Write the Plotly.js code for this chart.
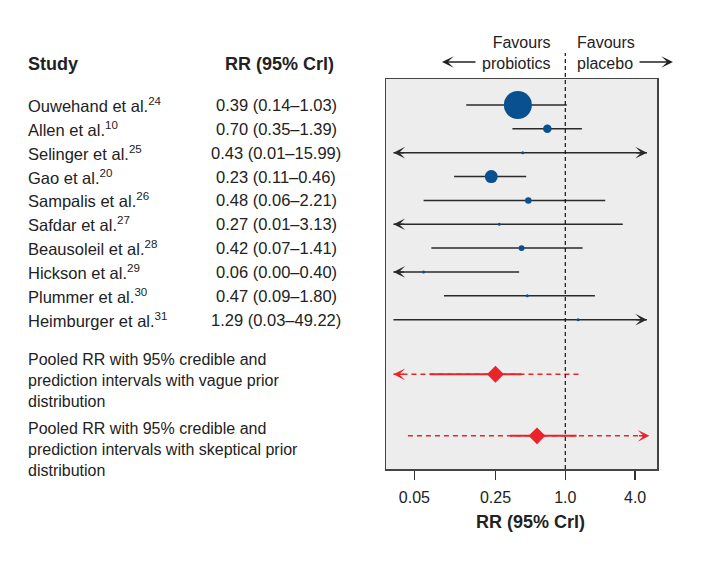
<!DOCTYPE html>
<html><head><meta charset="utf-8">
<script src="https://cdn.plot.ly/plotly-3.0.1.min.js"></script>
<style>html,body{margin:0;padding:0;background:#fff}</style>
</head><body><div id="chart" style="width:702px;height:562px"></div>
<script>
// ---- data ----
const studies = ['Ouwehand et al.','Allen et al.','Selinger et al.','Gao et al.','Sampalis et al.','Safdar et al.','Beausoleil et al.','Hickson et al.','Plummer et al.','Heimburger et al.'];
const refs = ['24','10','25','20','26','27','28','29','30','31'];
const rr = [0.39,0.70,0.43,0.23,0.48,0.27,0.42,0.06,0.47,1.29];
const lo = [0.14,0.35,0.01,0.11,0.06,0.01,0.07,0.00,0.09,0.03];
const hi = [1.03,1.39,15.99,0.46,2.21,3.13,1.41,0.40,1.80,49.22];
const weight = [64,5.9,0.7,13.8,3.4,0.7,2.9,0.7,0.7,0.7];
const pooledLabels = ['Pooled RR with 95% credible and<br>prediction intervals with vague prior<br>distribution',
                      'Pooled RR with 95% credible and<br>prediction intervals with skeptical prior<br>distribution'];
const pooledRR = [0.25, 0.57];
const pooledCrLo = [0.068, 0.334];
const pooledCrHi = [0.42, 1.25];
const pooledPrLo = [0.01, 0.044];
const pooledPrHi = [1.34, 8.0];
const tickVals = [0.05, 0.25, 1, 4];
const tickText = ['0.05', '0.25', '1.0', '4.0'];
const axisTitle = 'RR (95% Crl)';

// ---- layout helpers ----
const FONT = 'Liberation Sans, Arial, Helvetica, sans-serif';
const TXT = '#222';
const BLUE = '#08508f';
const RED = '#e8252a';
const LINE = '#2a2a2a';
const clipLo = 0.033, clipHi = 5.06;
const rowsStudy = studies.map((_, i) => i);
const rowsPooled = [11.29, 13.87];
const yTop = -1.09, yBot = 15.26;
const PL = 386, PW = 271, PT = 79, PH = 390;
const px2paperX = p => (p - PL) / PW;
const px2paperY = p => (PT + PH - p) / PH;
const FS = 16.5;

const traces = [];
// study CI lines
let lx = [], ly = [];
rowsStudy.forEach((r, i) => {
  lx.push(Math.max(lo[i], clipLo), Math.min(hi[i], clipHi), null);
  ly.push(r, r, null);
});
traces.push({x: lx, y: ly, mode: 'lines', line: {color: LINE, width: 1.5}, hoverinfo: 'skip'});
// study points
traces.push({x: rr, y: rowsStudy, mode: 'markers', cliponaxis: false,
  marker: {color: BLUE, opacity: 1, size: weight.map(w => Math.max(3, 3.5 * Math.sqrt(w))), line: {width: 0}}});
// pooled prediction intervals (dashed)
let px = [], py = [];
rowsPooled.forEach((r, i) => {
  px.push(Math.max(pooledPrLo[i], clipLo), Math.min(pooledPrHi[i], clipHi), null);
  py.push(r, r, null);
});
traces.push({x: px, y: py, mode: 'lines', line: {color: RED, width: 1.5, dash: '5px,4px'}});
// pooled credible intervals (solid)
let cx = [], cy = [];
rowsPooled.forEach((r, i) => {
  cx.push(pooledCrLo[i], pooledCrHi[i], null);
  cy.push(r, r, null);
});
traces.push({x: cx, y: cy, mode: 'lines', line: {color: RED, width: 2}});
traces.push({x: pooledRR, y: rowsPooled, mode: 'markers', cliponaxis: false,
  marker: {symbol: 'diamond', color: RED, opacity: 1, size: 13, line: {width: 0}}});

const ann = [];
function arrow(xv, y, dir, color) {
  ann.push({x: Math.log10(xv), y: y, xref: 'x', yref: 'y', text: '', showarrow: true,
    arrowhead: 3, arrowsize: 1.3, arrowwidth: 1.5, arrowcolor: color,
    ax: dir < 0 ? 12 : -12, ay: 0, standoff: 0});
}
rowsStudy.forEach((r, i) => {
  if (lo[i] < 0.02) arrow(clipLo, r, -1, LINE);
  if (hi[i] > clipHi) arrow(clipHi, r, 1, LINE);
});
rowsPooled.forEach((r, i) => {
  if (pooledPrLo[i] < clipLo) arrow(clipLo, r, -1, RED);
  if (pooledPrHi[i] > clipHi) arrow(clipHi * 1.05, r, 1, RED);
});

// left table text
const fmt = v => v.toFixed(2);
rowsStudy.forEach((r, i) => {
  ann.push({xref: 'paper', yref: 'y', x: px2paperX(26), y: r, xanchor: 'left', yanchor: 'middle',
    text: studies[i] + '<sup>' + refs[i] + '</sup>', showarrow: false, font: {size: FS, color: TXT, family: FONT}});
  ann.push({xref: 'paper', yref: 'y', x: px2paperX(276), y: r, xanchor: 'center', yanchor: 'middle',
    text: fmt(rr[i]) + ' (' + fmt(lo[i]) + '\u2013' + fmt(hi[i]) + ')', showarrow: false,
    font: {size: FS, color: TXT, family: FONT}});
});
const pooledShift = [-6, -14];
rowsPooled.forEach((r, i) => {
  ann.push({xref: 'paper', yref: 'y', x: px2paperX(26), y: r, yshift: pooledShift[i], xanchor: 'left', yanchor: 'middle',
    align: 'left', text: pooledLabels[i], showarrow: false, font: {size: 16, color: TXT, family: FONT}});
});
// headers
ann.push({xref: 'paper', yref: 'paper', x: px2paperX(26), y: px2paperY(64), xanchor: 'left', yanchor: 'middle',
  text: '<b>Study</b>', showarrow: false, font: {size: 18, color: TXT, family: FONT}});
ann.push({xref: 'paper', yref: 'paper', x: px2paperX(279), y: px2paperY(64), xanchor: 'center', yanchor: 'middle',
  text: '<b>RR (95% Crl)</b>', showarrow: false, font: {size: 18, color: TXT, family: FONT}});
// x axis title (offset right of plot centre, as in the reference)
ann.push({xref: 'paper', yref: 'paper', x: px2paperX(530), y: px2paperY(522), xanchor: 'center', yanchor: 'middle',
  text: '<b>' + axisTitle + '</b>', showarrow: false, font: {size: 18, color: TXT, family: FONT}});
// favours
ann.push({xref: 'paper', yref: 'paper', x: px2paperX(552), y: px2paperY(52.5), xanchor: 'right', yanchor: 'middle',
  align: 'right', text: 'Favours<br>probiotics', showarrow: false, font: {size: 16, color: TXT, family: FONT}});
ann.push({xref: 'paper', yref: 'paper', x: px2paperX(575), y: px2paperY(52.5), xanchor: 'left', yanchor: 'middle',
  align: 'left', text: 'Favours<br>placebo', showarrow: false, font: {size: 16, color: TXT, family: FONT}});
ann.push({xref: 'paper', yref: 'paper', x: px2paperX(442), y: px2paperY(62), text: '', showarrow: true,
  arrowhead: 3, arrowsize: 1.3, arrowwidth: 1.5, arrowcolor: TXT, ax: 35, ay: 0});
ann.push({xref: 'paper', yref: 'paper', x: px2paperX(673), y: px2paperY(62), text: '', showarrow: true,
  arrowhead: 3, arrowsize: 1.3, arrowwidth: 1.5, arrowcolor: TXT, ax: -35, ay: 0});

const layout = {
  width: 702, height: 562,
  margin: {l: PL, r: 702 - PL - PW, t: PT, b: 562 - PT - PH, pad: 0},
  paper_bgcolor: '#fff', plot_bgcolor: '#ededed',
  showlegend: false, hovermode: false,
  font: {family: FONT, color: TXT},
  xaxis: {type: 'log', range: [(386 - 565.3) / 116, (657 - 565.3) / 116],
    tickvals: tickVals, ticktext: tickText, ticks: 'outside', ticklen: 9, tickwidth: 1.5, tickcolor: '#333',
    tickfont: {size: 16, color: TXT, family: FONT}, ticklabelstandoff: 4,
    showgrid: false, zeroline: false, showline: true, mirror: true, linecolor: '#444', linewidth: 1.5},
  yaxis: {range: [yBot, yTop], showticklabels: false, ticks: '', showgrid: false, zeroline: false,
    showline: true, mirror: true, linecolor: '#444', linewidth: 1.5},
  shapes: [{type: 'line', xref: 'x', yref: 'paper', x0: 1, x1: 1, y0: 0, y1: px2paperY(53),
    line: {color: '#111', width: 1.2, dash: '4px,3px'}, layer: 'above'}],
  annotations: ann
};
Plotly.newPlot('chart', traces, layout, {staticPlot: true, displayModeBar: false});
</script></body></html>
